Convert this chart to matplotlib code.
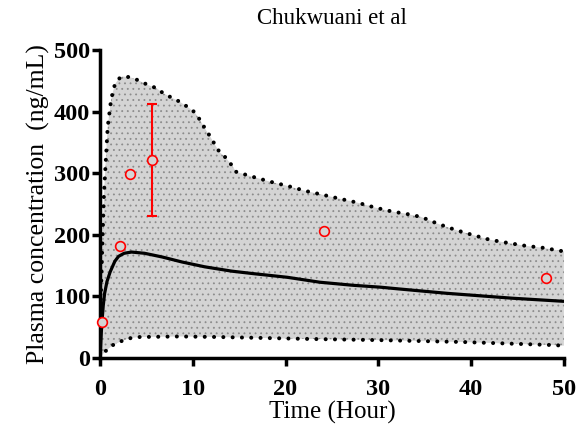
import matplotlib
matplotlib.use("Agg")
import matplotlib.pyplot as plt
import numpy as np

plt.rcParams['font.family'] = ['Liberation Serif', 'DejaVu Serif']
plt.rcParams['hatch.linewidth'] = 0.6

# Prediction band (upper / lower bound) and mean simulated profile
upper_t = [0.0, 0.2, 0.43, 0.83, 1.2, 1.6, 2.0, 2.4, 3.2, 4.1, 5.2, 6.1, 6.8, 7.8,
           8.6, 9.5, 10.2, 10.8, 11.3, 11.9, 12.4, 12.9, 13.5, 14.0, 14.7, 16.5,
           18.4, 20.3, 22.2, 24.0, 26.0, 27.8, 29.7, 31.7, 32.7, 34.6, 36.4, 38.3,
           40.1, 42.0, 43.9, 45.9, 47.7, 50.0]
upper_c = [50, 159, 268, 375, 420, 444, 453, 457, 456, 451, 443, 438, 430, 422,
           416, 407, 399, 386, 373, 359, 346, 334, 326, 317, 302, 294,
           286, 279, 271, 265, 258, 252, 244, 237, 235, 229, 218, 208,
           200, 192, 187, 182, 179, 173]

lower_t = [0.0, 0.5, 1.4, 2.4, 3.2, 4.1, 8.6, 13.0, 22.3, 30.2, 39.0, 48.8, 50.0]
lower_c = [0, 10, 21, 28, 32, 34, 35, 34, 31, 29, 26, 21, 20]

mean_t = [0.0, 0.1, 0.2, 0.35, 0.5, 0.75, 1.1, 1.6, 2.0, 2.6, 3.4, 4.8, 6.7, 8.8,
          11.3, 14.2, 16.5, 20.2, 23.7, 27.3, 30.2, 32.3, 37.4, 44.5, 50.0]
mean_c = [0, 30, 57, 85, 105, 124, 140, 157, 165, 170, 172, 170, 164, 156,
          148, 141, 137, 131, 123, 118, 115, 112, 105, 97, 92]

# Observed concentrations
obs_t = [0.2, 2.2, 3.2, 5.6, 24.1, 48.1]
obs_c = [58, 182, 299, 321, 206, 130]
sd_t = [5.6]
sd_c = [321]
sd_err = [91]

grid_t = np.linspace(0, 50, 600)
up = np.interp(grid_t, upper_t, upper_c)
lo = np.interp(grid_t, lower_t, lower_c)

fig = plt.figure(figsize=(5.77, 4.36), dpi=100)
ax = fig.add_axes([0.1733, 0.1789, 0.804, 0.7064])

ax.fill_between(grid_t, lo, up, facecolor='#d4d4d4', edgecolor='#8c8c8c',
                hatch='...', linewidth=0, zorder=1)
dotted = (0, (0.01, 2.3))
ax.plot(upper_t, upper_c, color='black', lw=2.9, linestyle=dotted,
        dash_capstyle='round', zorder=3)
ax.plot(lower_t, lower_c, color='black', lw=2.9, linestyle=dotted,
        dash_capstyle='round', zorder=3)
ax.plot(mean_t, mean_c, color='black', lw=2.3, zorder=4)

ax.errorbar(sd_t, sd_c, yerr=sd_err, fmt='none', ecolor='red',
            elinewidth=1.5, capsize=3.5, capthick=1.5, zorder=5)
ax.plot(obs_t, obs_c, 'o', mfc='#d4d4d4', mec='red', ms=7, mew=1.2,
        zorder=6, clip_on=False)

ax.set_xlim(0, 50)
ax.set_ylim(0, 500)
ax.set_xticks([0, 10, 20, 30, 40, 50])
ax.set_yticks([0, 100, 200, 300, 400, 500])

for side in ['top', 'right']:
    ax.spines[side].set_visible(False)
for side in ['left', 'bottom']:
    ax.spines[side].set_linewidth(2.5)
ax.tick_params(axis='both', length=6, width=2.5, labelsize=17.5)
ax.tick_params(axis='x', pad=9)
ax.tick_params(axis='y', pad=1)
for lab in ax.get_xticklabels() + ax.get_yticklabels():
    lab.set_fontweight('bold')

ax.set_title('Chukwuani et al', fontsize=16.5, pad=19)
ax.set_xlabel('Time (Hour)', fontsize=18, labelpad=1)
ax.set_ylabel('Plasma concentration  (ng/mL)', fontsize=18.5, labelpad=3)

fig.savefig('out.png', dpi=100)
